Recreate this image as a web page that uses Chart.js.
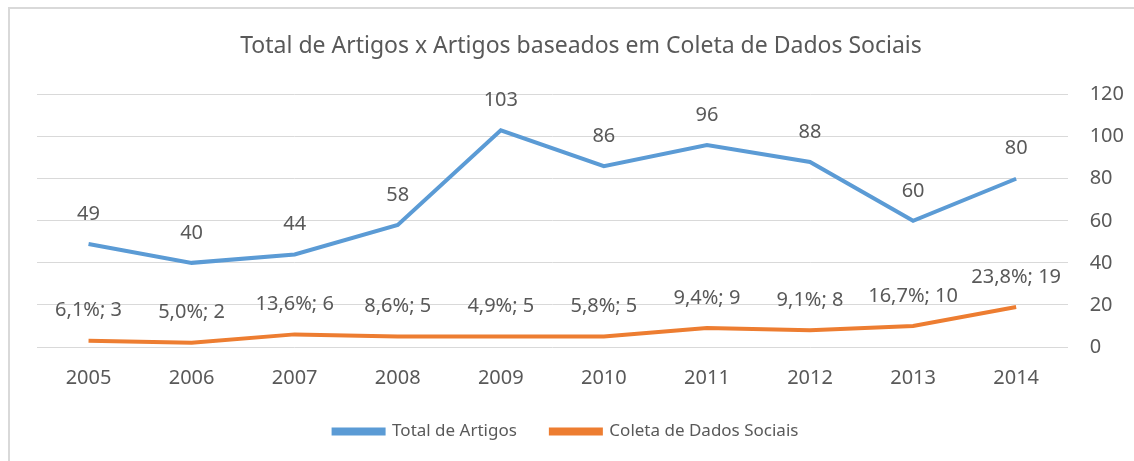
<!DOCTYPE html>
<html>
<head>
<meta charset="utf-8">
<script src="https://cdn.jsdelivr.net/npm/chart.js@4/dist/chart.umd.min.js"></script>
<style>
    html, body { margin: 0; padding: 0; background: #fff; }
    #wrap { position: relative; width: 1134px; height: 461px; }
    #frame { position: absolute; left: 8px; top: 7px; width: 1140px; height: 470px;
             border-left: 2px solid #d9d9d9; border-top: 2px solid #d9d9d9; }
    canvas { position: absolute; left: 0; top: 0; }
</style>
</head>
<body>
<div id="wrap">
    <div id="frame"></div>
    <canvas id="chart" width="1134" height="461"></canvas>
</div>
<script>
// Data
const years = ['2005', '2006', '2007', '2008', '2009', '2010', '2011', '2012', '2013', '2014'];
const totalArtigos = [49, 40, 44, 58, 103, 86, 96, 88, 60, 80];
const coletaDados = [3, 2, 6, 5, 5, 5, 9, 8, 10, 19];
const coletaPercent = ['6,1%', '5,0%', '13,6%', '8,6%', '4,9%', '5,8%', '9,4%', '9,1%', '16,7%', '23,8%'];

const textColor = '#595959';
const fontFamily = '"Noto Sans", "Open Sans", sans-serif';

// Simple data label plugin (labels above each point)
const pointLabels = {
    id: 'pointLabels',
    afterLayout(chart) {
        // nudge the legend a bit left, like the original
        chart.legend.left -= 15;
        chart.legend.right -= 15;
    },
    afterDatasetsDraw(chart) {
        const ctx = chart.ctx;
        ctx.save();
        ctx.font = '20px ' + fontFamily;
        ctx.fillStyle = textColor;
        ctx.textAlign = 'center';
        ctx.textBaseline = 'middle';
        chart.data.datasets.forEach((ds, i) => {
            const meta = chart.getDatasetMeta(i);
            meta.data.forEach((pt, j) => {
                let text = String(ds.data[j]);
                if (i === 1) text = coletaPercent[j] + '; ' + ds.data[j];
                ctx.fillText(text, pt.x, pt.y - 30);
            });
        });
        ctx.restore();
    }
};

new Chart(document.getElementById('chart'), {
    type: 'line',
    data: {
        labels: years,
        datasets: [
            {
                label: 'Total de Artigos',
                data: totalArtigos,
                borderColor: '#5b9bd5',
                backgroundColor: '#5b9bd5',
                borderWidth: 4,
                pointRadius: 0,
                tension: 0
            },
            {
                label: 'Coleta de Dados Sociais',
                data: coletaDados,
                borderColor: '#ed7d31',
                backgroundColor: '#ed7d31',
                borderWidth: 4,
                pointRadius: 0,
                tension: 0
            }
        ]
    },
    options: {
        responsive: false,
        animation: false,
        layout: { padding: { left: 37, right: 9, top: 33, bottom: 11 } },
        plugins: {
            title: {
                display: true,
                text: 'Total de Artigos x Artigos baseados em Coleta de Dados Sociais',
                color: textColor,
                font: { family: fontFamily, size: 23, weight: 'normal' },
                padding: { top: 0, bottom: 34 }
            },
            legend: {
                position: 'bottom',
                labels: {
                    color: textColor,
                    font: { family: fontFamily, size: 17 },
                    boxWidth: 50,
                    boxHeight: 4,
                    padding: 34
                }
            },
            tooltip: { enabled: false }
        },
        scales: {
            x: {
                offset: true,
                grid: { display: false },
                border: { display: false },
                ticks: { color: textColor, font: { family: fontFamily, size: 20 }, padding: 11 },
                afterFit(axis) { axis.height -= 12; }
            },
            y: {
                position: 'right',
                min: 0,
                max: 120,
                grid: { color: '#d9d9d9', drawTicks: false },
                border: { display: false },
                ticks: { stepSize: 20, color: textColor, font: { family: fontFamily, size: 20 }, padding: 22 },
                afterFit(axis) { axis.width -= 21; }
            }
        }
    },
    plugins: [pointLabels]
});
</script>
</body>
</html>
